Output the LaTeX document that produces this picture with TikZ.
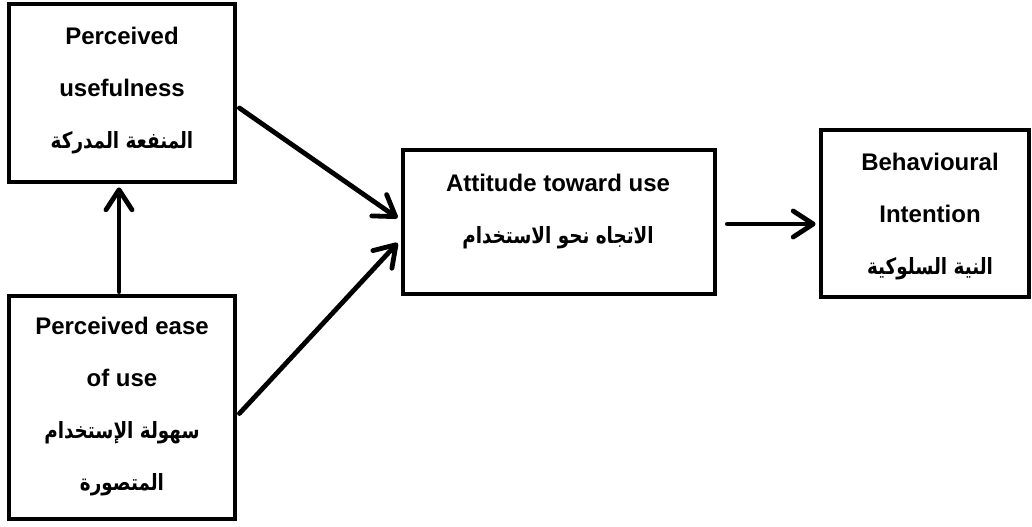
\documentclass[tikz,border=0pt]{standalone}
\usepackage{fontspec}
\setmainfont{Liberation Sans}
\newfontfamily\arabicfont[Script=Arabic,FakeStretch=0.82]{DejaVu Sans}
\TeXXeTstate=1
\usetikzlibrary{arrows.meta,calc}
\newcommand\artxt[1]{{\arabicfont\bfseries\fontsize{11.2}{26}\selectfont\beginR #1\endR}}
\begin{document}
\begin{tikzpicture}[x=0.5pt,y=-0.5pt,
  box/.style={draw, line width=2.4pt, fill=white, inner sep=0pt, rectangle},
  txt/.style={align=center, font=\bfseries\fontsize{12}{26}\selectfont, inner sep=0pt},
  conn/.style={line width=2.4pt, line cap=round, -{Straight Barb[length=10pt,width=13pt,line cap=round,line join=round]}},
]
\useasboundingbox (0,0) rectangle (1032,526);
% boxes
\node[box, minimum width=113pt, minimum height=89pt] (pu) at (122,93) {};
\node[box, minimum width=113pt, minimum height=111.5pt] (peou) at (122,407.5) {};
\node[box, minimum width=156pt, minimum height=72pt] (att) at (559,222) {};
\node[box, minimum width=104pt, minimum height=83.5pt] (bi) at (925,213.5) {};
% texts
\node[txt] (put) at (122,91) {Perceived\\usefulness\\\artxt{المنفعة المدركة}};
\node[txt] (peout) at (122,407) {Perceived ease\\of use\\\artxt{سهولة الإستخدام}\\\artxt{المتصورة}};
\node[txt] (attt) at (558,212) {Attitude toward use\\\artxt{الاتجاه نحو الاستخدام}};
\node[txt] (bit) at (930,217) {Behavioural\\Intention\\\artxt{النية السلوكية}};
% connectors
\draw[conn] ($(pu.east)+(2,15)$) -- ($(att.west)+(-3,-4)$);
\draw[conn] ($(peou.east)+(2,6)$) -- ($(att.west)+(-3,21)$);
\draw[conn] ($(peou.north)+(-3,-2)$) -- ($(pu.south)+(-3,3)$);
\coordinate (ab) at ($(att.east)+(10,2)$);
\draw[conn] (ab) -- ($(ab -| bi.west)+(-3,0)$);
\end{tikzpicture}
\end{document}
